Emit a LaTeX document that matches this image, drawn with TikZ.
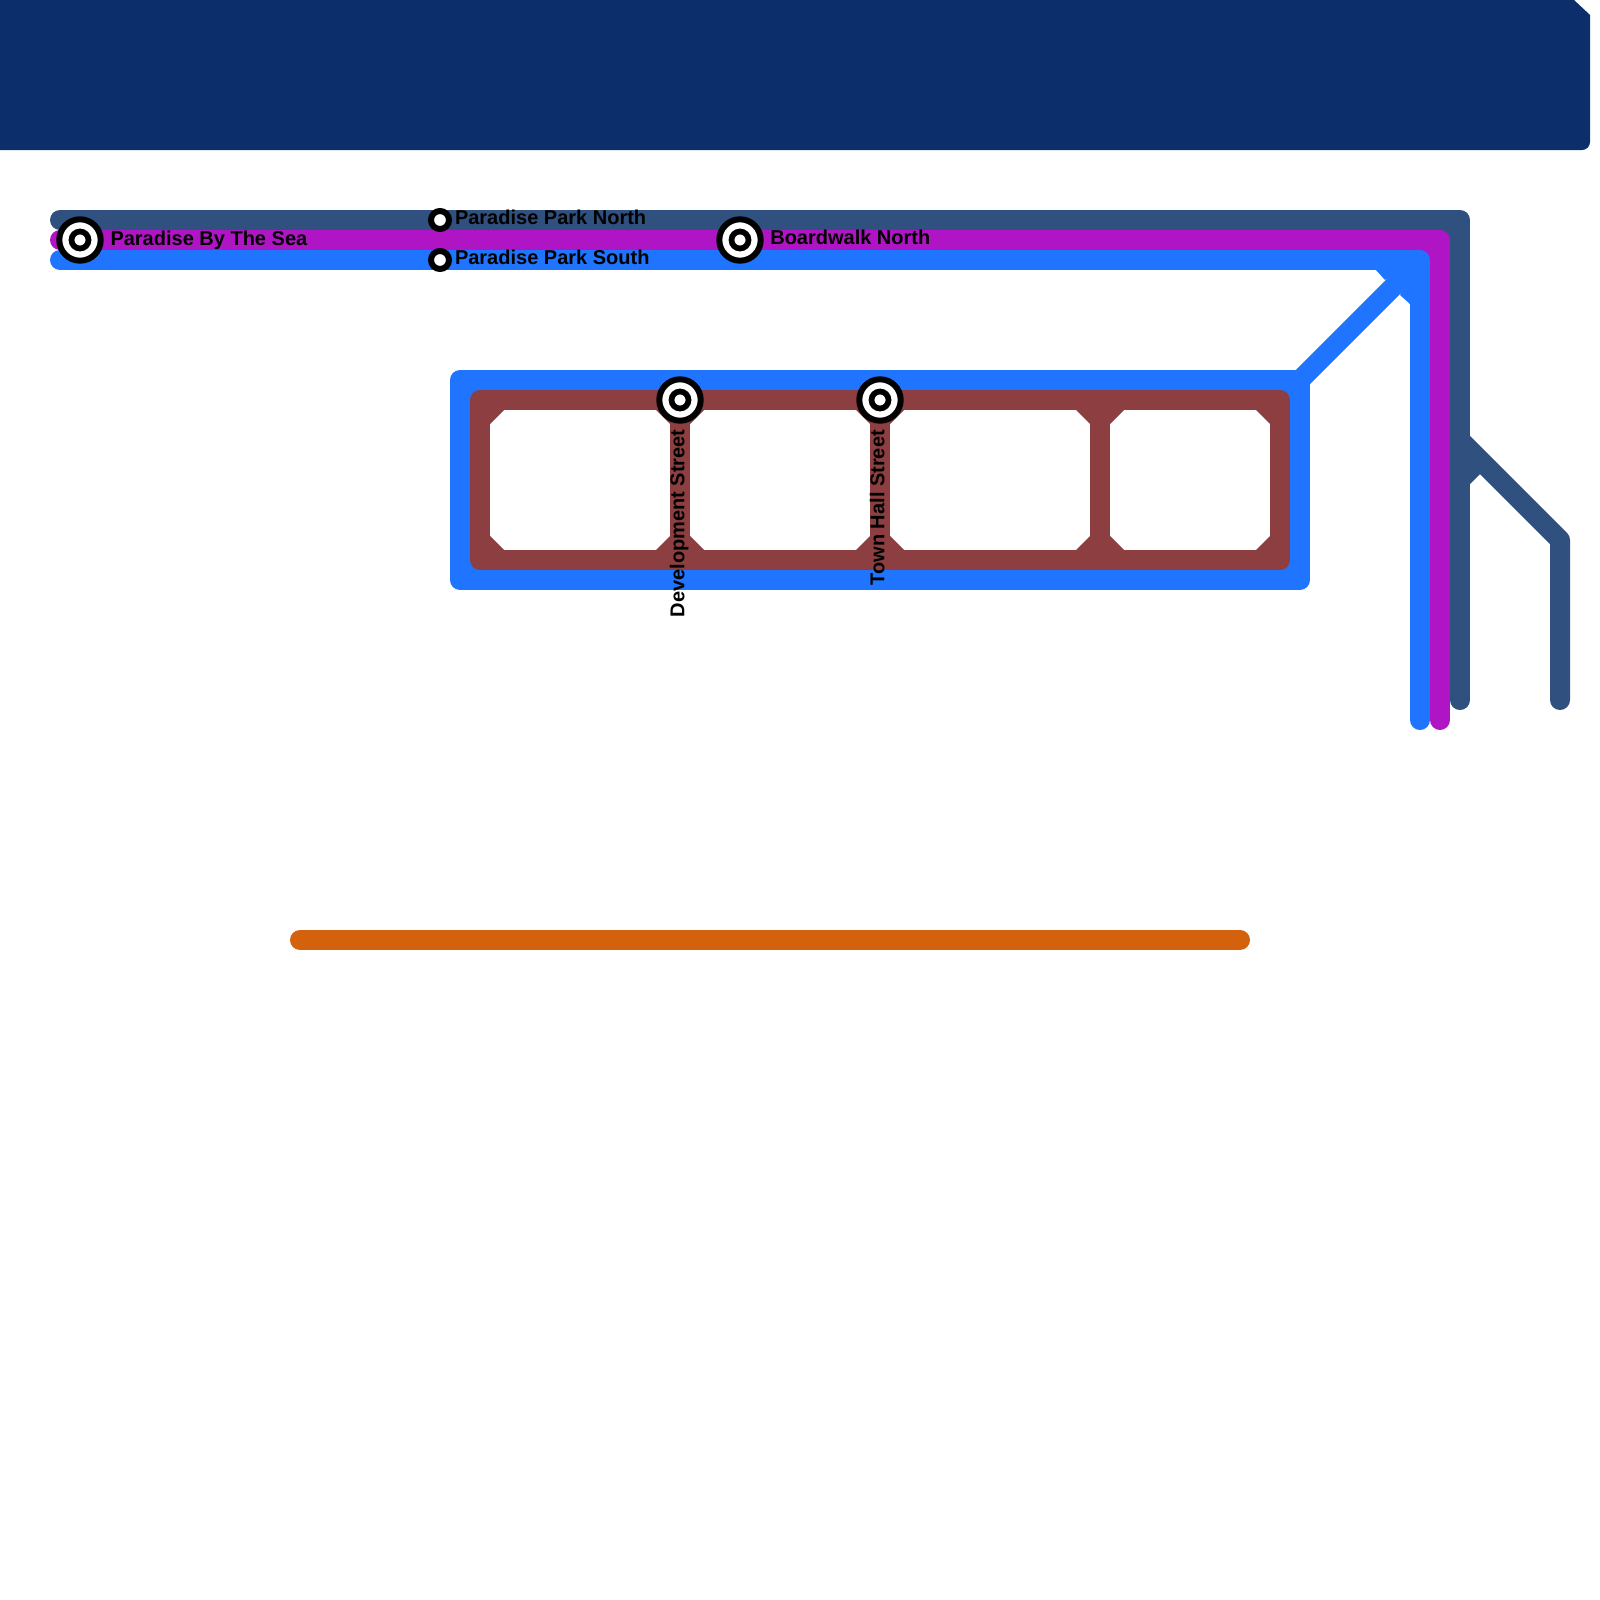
\documentclass[tikz,border=0pt]{standalone}
\usepackage{fontspec}
\setmainfont{Liberation Sans}
\definecolor{bandnavy}{HTML}{0C2F6C}
\definecolor{slateline}{HTML}{30507F}
\definecolor{purpleline}{HTML}{B015C5}
\definecolor{blueline}{HTML}{1F75FF}
\definecolor{brownline}{HTML}{8C3E40}
\definecolor{orangeline}{HTML}{D4620C}
\tikzset{
  metro/.style={line width=20pt,line cap=round,line join=round},
  label text/.style={inner sep=0pt,outer sep=0pt,font=\bfseries\fontsize{20}{24}\selectfont,text=black},
  hub/.style={circle,draw=black,fill=white,line width=6pt,minimum size=41.4pt,inner sep=0pt,outer sep=0pt},
  hubcore/.style={circle,draw=black,fill=white,line width=5.7pt,minimum size=17pt,inner sep=0pt,outer sep=0pt},
  halt/.style={circle,draw=black,fill=white,line width=6pt,minimum size=18pt,inner sep=0pt,outer sep=0pt}
}
\begin{document}
\begin{tikzpicture}[x=1pt,y=-1pt]
\useasboundingbox[fill=white] (0,0) rectangle (1600,1600);
% header band
\fill[bandnavy] (0,0) -- (1574,0) -- (1590,15) -- (1590,142) arc[start angle=0,end angle=90,x radius=8pt,y radius=-8pt] -- (0,150) -- cycle;
% named junctions
\coordinate (slA) at (60,220);
\coordinate (slB) at (1460,220);
\coordinate (slC) at (1460,700);
\coordinate (slD) at (1460,440);
\coordinate (slE) at (1560,540);
\coordinate (slF) at (1560,700);
\coordinate (puA) at (60,240);
\coordinate (puB) at (1440,240);
\coordinate (puC) at (1440,720);
\coordinate (blA) at (60,260);
\coordinate (blB) at (1420,260);
\coordinate (blC) at (1420,720);
\coordinate (loNW) at (460,380);
\coordinate (loNE) at (1300,380);
\coordinate (loSE) at (1300,580);
\coordinate (loSW) at (460,580);
\coordinate (orA) at (300,940);
\coordinate (orB) at (1240,940);
% slate line
\draw[metro,slateline] (slA) -- (slB) -- (slC);
\draw[metro,slateline] (slD) -- (slE) -- (slF);
\fill[slateline] (1470,484) -- (1480,474) -- (1460,440) -- cycle;
\fill[slateline] (1440,230) rectangle (1450,240);
% purple line
\draw[metro,purpleline] (puA) -- (puB) -- (puC);
\fill[purpleline] (1420,250) rectangle (1430,260);
% blue line
\draw[metro,blueline] (blA) -- (blB) -- (blC);
\draw[metro,blueline,line cap=butt] (loNE) -- (blB);
\draw[metro,blueline] (loNW) -- (loNE) -- (loSE) -- (loSW) -- cycle;
\fill[blueline] (1376,270) -- (1385,280) -- (1420,260) -- cycle;
\fill[blueline] (1400,295) -- (1410,304) -- (1420,260) -- cycle;
\fill[blueline] (470,390) rectangle (480,400) (1280,390) rectangle (1290,400) (470,560) rectangle (480,570) (1280,560) rectangle (1290,570);
% brown loop
\draw[metro,brownline] (480,400) -- (1280,400) -- (1280,560) -- (480,560) -- cycle;
\draw[metro,brownline,line cap=butt] (680,400) -- (680,560);
\draw[metro,brownline,line cap=butt] (880,400) -- (880,560);
\draw[metro,brownline,line cap=butt] (1100,400) -- (1100,560);
\fill[brownline]
  (490,424) -- (504,410) -- (490,410) -- cycle
  (490,536) -- (504,550) -- (490,550) -- cycle
  (656,410) -- (670,424) -- (670,410) -- cycle
  (704,410) -- (690,424) -- (690,410) -- cycle
  (656,550) -- (670,536) -- (670,550) -- cycle
  (704,550) -- (690,536) -- (690,550) -- cycle
  (856,410) -- (870,424) -- (870,410) -- cycle
  (904,410) -- (890,424) -- (890,410) -- cycle
  (856,550) -- (870,536) -- (870,550) -- cycle
  (904,550) -- (890,536) -- (890,550) -- cycle
  (1076,410) -- (1090,424) -- (1090,410) -- cycle
  (1124,410) -- (1110,424) -- (1110,410) -- cycle
  (1076,550) -- (1090,536) -- (1090,550) -- cycle
  (1124,550) -- (1110,536) -- (1110,550) -- cycle
  (1256,410) -- (1270,424) -- (1270,410) -- cycle
  (1256,550) -- (1270,536) -- (1270,550) -- cycle;
% orange line
\draw[metro,orangeline] (orA) -- (orB);
% stations
\foreach \nm/\px/\py in {sea/80/240,board/740/240,dev/680/400,town/880/400}{
  \node[hub] (\nm) at (\px,\py) {};
  \node[hubcore] (\nm core) at (\px,\py) {};
}
\node[halt] (parkN) at (440,220) {};
\node[halt] (parkS) at (440,260) {};
% labels
\node[label text,anchor=base west] (lsea) at (110.5,245) {Paradise By The Sea};
\node[label text,anchor=base west] (lparkN) at (455,224.7) {Paradise Park North};
\node[label text,anchor=base west] (lparkS) at (455,264.7) {Paradise Park South};
\node[label text,anchor=base west] (lboard) at (770.3,244.7) {Boardwalk North};
\node[label text,anchor=base west,rotate=90] (ldev) at (684.4,617.3) {Development Street};
\node[label text,anchor=base west,rotate=90] (ltown) at (884.4,585.3) {Town Hall Street};
\end{tikzpicture}
\end{document}
